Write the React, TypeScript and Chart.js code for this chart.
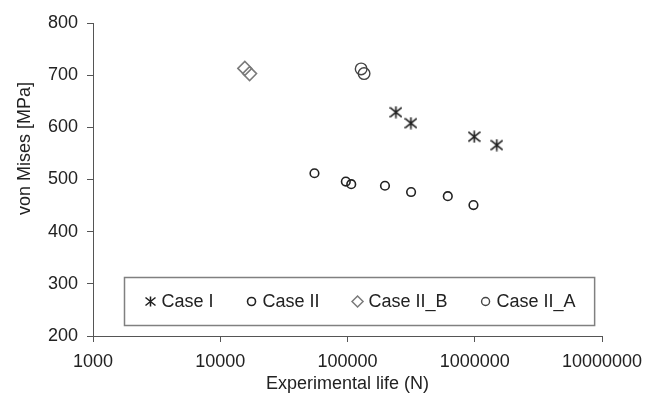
import React, { useEffect, useRef } from 'react';
import { Chart, registerables } from 'chart.js';
import { drawPoint } from 'chart.js/helpers';

Chart.register(...registerables);

// ---- data ----
const seriesNames = ['Case I', 'Case II', 'Case II_B', 'Case II_A'];
const caseIX = [240000, 315000, 990000, 1490000];
const caseIY = [629, 608, 582, 566];
const caseIIX = [55000, 97000, 107000, 197000, 316000, 614000, 977000];
const caseIIY = [512, 496, 491, 488, 476, 468, 451];
const caseIIBX = [15600, 17000];
const caseIIBY = [713, 703];
const caseIIAX = [128000, 135000];
const caseIIAY = [712, 703];
const xTickValues = [1000, 10000, 100000, 1000000, 10000000];
const yTickValues = [200, 300, 400, 500, 600, 700, 800];
const xTitle = 'Experimental life (N)';
const yTitle = 'von Mises [MPa]';

const FONT = '"Liberation Sans", Arial, Helvetica, sans-serif';
const TEXT = '#222222';
const AXIS = '#555555';

function toPoints(xs: number[], ys: number[]) {
  return xs.map((x, i) => ({ x, y: ys[i] }));
}

function makeAsterisk(w: number, h: number, lw: number, color: string) {
  const c = document.createElement('canvas');
  c.width = w;
  c.height = h;
  const ctx = c.getContext('2d')!;
  ctx.strokeStyle = color;
  ctx.lineWidth = lw;
  const mx = w / 2;
  const my = h / 2;
  const ax = w / 2 - 0.5;
  const ay = h / 2 - 0.5;
  ctx.beginPath();
  ctx.moveTo(mx, my - ay);
  ctx.lineTo(mx, my + ay);
  ctx.moveTo(mx - ax, my - ay * 0.8);
  ctx.lineTo(mx + ax, my + ay * 0.8);
  ctx.moveTo(mx + ax, my - ay * 0.8);
  ctx.lineTo(mx - ax, my + ay * 0.8);
  ctx.stroke();
  return c;
}

const boxLegend = {
  id: 'boxLegend',
  afterDatasetsDraw(chart: any, _args: any, o: any) {
    const { ctx, chartArea } = chart;
    const ds = chart.data.datasets;
    ctx.save();
    ctx.font = `${o.size}px ${o.family}`;
    const widths = ds.map((d: any) => ctx.measureText(d.label).width);
    let w = o.padLeft + o.padRight;
    widths.forEach((tw: number, i: number) => {
      w += o.markerGap + tw + (i < widths.length - 1 ? o.itemGap : 0);
    });
    const left = Math.round(chartArea.left + o.offsetLeft) + 0.5;
    const top = Math.round(chartArea.bottom - o.offsetBottom - o.height) + 0.5;
    ctx.fillStyle = '#ffffff';
    ctx.fillRect(left, top, w, o.height);
    ctx.lineWidth = o.borderWidth;
    ctx.strokeStyle = o.borderColor;
    ctx.strokeRect(left, top, w, o.height);
    const cy = top + o.height / 2;
    let x = left + o.padLeft;
    ds.forEach((d: any, i: number) => {
      ctx.strokeStyle = d.pointBorderColor;
      ctx.fillStyle = 'rgba(0,0,0,0)';
      ctx.lineWidth = d.pointBorderWidth;
      drawPoint(
        ctx,
        { pointStyle: d.legendPointStyle ?? d.pointStyle, rotation: 0, radius: d.legendRadius, borderWidth: d.pointBorderWidth },
        x,
        cy
      );
      ctx.fillStyle = o.color;
      ctx.textAlign = 'left';
      ctx.textBaseline = 'middle';
      ctx.fillText(d.label, x + o.markerGap, cy + 1);
      x += o.markerGap + widths[i] + o.itemGap;
    });
    ctx.restore();
  },
};

const yTitlePlugin = {
  id: 'yTitleShifted',
  afterDraw(chart: any, _args: any, o: any) {
    const { ctx, chartArea } = chart;
    ctx.save();
    ctx.font = `${o.size}px ${o.family}`;
    ctx.fillStyle = o.color;
    ctx.translate(o.x, (chartArea.top + chartArea.bottom) / 2 + o.shift);
    ctx.rotate(-Math.PI / 2);
    ctx.textAlign = 'center';
    ctx.textBaseline = 'middle';
    ctx.fillText(o.text, 0, 0);
    ctx.restore();
  },
};

export default function App() {
  const ref = useRef<HTMLCanvasElement | null>(null);

  useEffect(() => {
    if (!ref.current) return;
    const star = makeAsterisk(13, 13, 1.6, '#1e1e1e');
    const starLegend = makeAsterisk(11, 11, 1.5, '#1e1e1e');

    const chart = new Chart(ref.current, {
      type: 'scatter',
      data: {
        datasets: [
          {
            label: seriesNames[0],
            data: toPoints(caseIX, caseIY),
            pointStyle: star as any,
            legendPointStyle: starLegend,
            legendRadius: 5,
            pointRadius: 6,
            pointBorderColor: '#1e1e1e',
            pointBackgroundColor: 'rgba(0,0,0,0)',
            pointBorderWidth: 1.6,
            showLine: false,
          } as any,
          {
            label: seriesNames[1],
            data: toPoints(caseIIX, caseIIY),
            pointStyle: 'circle',
            legendRadius: 4,
            pointRadius: 4.3,
            pointBorderColor: '#222222',
            pointBackgroundColor: 'rgba(0,0,0,0)',
            pointBorderWidth: 1.6,
            showLine: false,
          } as any,
          {
            label: seriesNames[2],
            data: toPoints(caseIIBX, caseIIBY),
            pointStyle: 'rectRot',
            legendRadius: 5.5,
            pointRadius: 7,
            pointBorderColor: '#7a7a7a',
            pointBackgroundColor: 'rgba(0,0,0,0)',
            pointBorderWidth: 1.5,
            showLine: false,
          } as any,
          {
            label: seriesNames[3],
            data: toPoints(caseIIAX, caseIIAY),
            pointStyle: 'circle',
            legendRadius: 4,
            pointRadius: 5.8,
            pointBorderColor: '#444444',
            pointBackgroundColor: 'rgba(0,0,0,0)',
            pointBorderWidth: 1.4,
            showLine: false,
          } as any,
        ],
      },
      options: {
        responsive: false,
        animation: false,
        events: [],
        layout: { padding: { left: 0, right: 54, top: 23, bottom: 0 } },
        plugins: {
          legend: { display: false },
          tooltip: { enabled: false },
          boxLegend: {
            family: FONT,
            size: 18,
            color: TEXT,
            padLeft: 26,
            padRight: 19,
            markerGap: 11,
            itemGap: 38,
            offsetLeft: 31,
            offsetBottom: 11,
            height: 48,
            borderColor: '#808080',
            borderWidth: 1.5,
          },
          yTitleShifted: {
            text: yTitle,
            family: FONT,
            size: 18,
            color: TEXT,
            x: 25,
            shift: -31,
          },
        } as any,
        scales: {
          x: {
            type: 'logarithmic',
            min: xTickValues[0],
            max: xTickValues[xTickValues.length - 1],
            afterBuildTicks: (s: any) => {
              s.ticks = xTickValues.map((v) => ({ value: v }));
            },
            afterFit: (s: any) => {
              s.height = 67;
            },
            ticks: {
              callback: (v: any) => String(v),
              font: { family: FONT, size: 18 },
              color: TEXT,
              padding: 9,
              autoSkip: false,
              maxRotation: 0,
            },
            grid: { drawOnChartArea: false, drawTicks: true, tickLength: 6, color: AXIS, lineWidth: 1 },
            border: { display: true, color: AXIS, width: 1 },
            title: {
              display: true,
              text: xTitle,
              font: { family: FONT, size: 18 },
              color: TEXT,
              padding: { top: 0, bottom: 8 },
            },
          } as any,
          y: {
            type: 'linear',
            min: yTickValues[0],
            max: yTickValues[yTickValues.length - 1],
            afterFit: (s: any) => {
              s.width = 93;
            },
            ticks: {
              stepSize: yTickValues[1] - yTickValues[0],
              font: { family: FONT, size: 18 },
              color: TEXT,
              padding: 9,
            },
            grid: { drawOnChartArea: false, drawTicks: true, tickLength: 6, color: AXIS, lineWidth: 1 },
            border: { display: true, color: AXIS, width: 1 },
            title: { display: false },
          } as any,
        },
      },
      plugins: [boxLegend, yTitlePlugin],
    });
    return () => chart.destroy();
  }, []);

  return (
    <div style={{ position: 'absolute', left: 0, top: 0, width: 656, height: 403, background: '#fff' }}>
      <canvas ref={ref} width={656} height={403} style={{ display: 'block' }} />
    </div>
  );
}
